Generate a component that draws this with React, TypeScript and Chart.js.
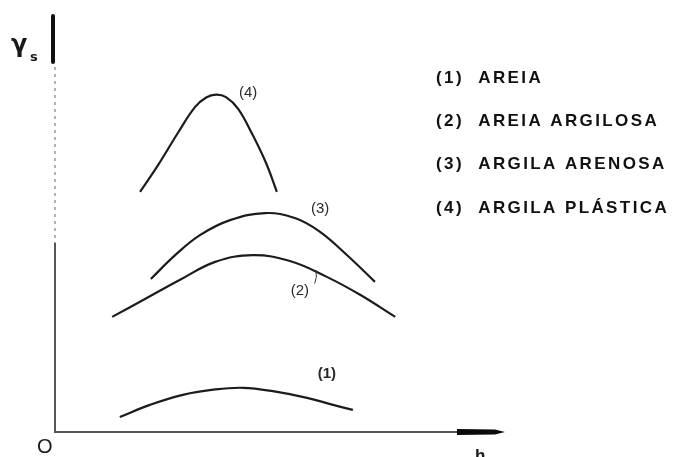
import { useEffect, useRef } from "react";
import { Chart, registerables } from "chart.js";

Chart.register(...registerables);

// Curve (1) AREIA
const curve1X = [14.4, 21.1, 28.4, 35.6, 41.8, 48.4, 56.0, 61.8, 66.2];
const curve1Y = [3.6, 6.5, 8.9, 10.2, 10.6, 9.8, 8.2, 6.5, 5.3];
// Curve (2) AREIA ARGILOSA
const curve2X = [12.7, 20.0, 27.8, 35.6, 44.0, 52.2, 60.4, 67.8, 75.6];
const curve2Y = [27.6, 31.9, 36.5, 40.8, 42.4, 41.0, 37.2, 32.9, 27.6];
// Curve (3) ARGILA ARENOSA
const curve3X = [21.3, 26.7, 32.2, 38.9, 46.7, 53.3, 58.9, 65.1, 71.1];
const curve3Y = [36.7, 42.4, 47.2, 50.8, 52.5, 51.3, 48.0, 42.2, 36.0];
// Curve (4) ARGILA PLÁSTICA
const curve4X = [18.9, 22.9, 27.3, 31.1, 33.6, 35.8, 38.0, 40.7, 43.8, 46.9, 49.3];
const curve4Y = [57.6, 64.0, 71.7, 77.9, 80.2, 80.9, 80.3, 77.5, 71.5, 64.5, 57.6];

const curveLabels = ["(1)", "(2)", "(3)", "(4)"];
const legendLabels = ["(1)  AREIA", "(2)  AREIA ARGILOSA", "(3)  ARGILA ARENOSA", "(4)  ARGILA PLÁSTICA"];
const yAxisLabel = "γ";
const yAxisSub = "s";
const xAxisLabel = "h";
const originLabel = "O";

const overlay = {
  id: "overlay",
  beforeDatasetsDraw(chart: any) {
    const ctx = chart.ctx as CanvasRenderingContext2D;
    const xs = chart.scales.x;
    const ys = chart.scales.y;
    const x0 = xs.getPixelForValue(0);
    const y0 = ys.getPixelForValue(0);
    const top = ys.getPixelForValue(100);
    const right = xs.getPixelForValue(100);
    ctx.save();
    // y axis: thick top part
    ctx.strokeStyle = "#111";
    ctx.lineWidth = 4;
    ctx.lineCap = "round";
    ctx.beginPath();
    ctx.moveTo(x0 - 2, top + 1);
    ctx.lineTo(x0 - 2, top + 47);
    ctx.stroke();
    // dotted faint middle part
    ctx.strokeStyle = "#9a9a9a";
    ctx.lineWidth = 1.5;
    ctx.lineCap = "butt";
    ctx.setLineDash([3, 4]);
    ctx.beginPath();
    ctx.moveTo(x0, top + 52);
    ctx.lineTo(x0, top + 228);
    ctx.stroke();
    ctx.setLineDash([]);
    // solid lower part
    ctx.strokeStyle = "#555";
    ctx.lineWidth = 2;
    ctx.beginPath();
    ctx.moveTo(x0, top + 228);
    ctx.lineTo(x0, y0);
    ctx.lineTo(right - 47, y0);
    ctx.stroke();
    // arrow on x axis
    ctx.fillStyle = "#0a0a0a";
    ctx.beginPath();
    ctx.moveTo(right - 48, y0 - 3);
    ctx.lineTo(right - 10, y0 - 2.5);
    ctx.lineTo(right, y0);
    ctx.lineTo(right - 10, y0 + 2.5);
    ctx.lineTo(right - 48, y0 + 3);
    ctx.closePath();
    ctx.fill();
    ctx.restore();
  },
  afterDraw(chart: any) {
    const ctx = chart.ctx as CanvasRenderingContext2D;
    const xs = chart.scales.x;
    const ys = chart.scales.y;
    const px = (v: number) => xs.getPixelForValue(v);
    const py = (v: number) => ys.getPixelForValue(v);
    ctx.save();
    ctx.textBaseline = "middle";
    ctx.textAlign = "center";
    // curve labels (anchors in data units)
    const anchors = [
      [60.4, 13.9],
      [54.4, 33.8],
      [58.9, 53.5],
      [42.9, 81.3],
    ];
    ctx.fillStyle = "#2a2a2a";
    curveLabels.forEach((t, i) => {
      ctx.font = (i === 0 ? "bold " : "") + "15px 'Liberation Sans', Arial, sans-serif";
      ctx.fillText(t, px(anchors[i][0]), py(anchors[i][1]));
    });
    // small leader tick for (2)
    ctx.strokeStyle = "#333";
    ctx.lineWidth = 1;
    ctx.beginPath();
    ctx.moveTo(px(57.7), py(35.6));
    ctx.quadraticCurveTo(px(58.3), py(37.0), px(58.0), py(38.8));
    ctx.stroke();
    // legend
    ctx.textAlign = "left";
    ctx.fillStyle = "#111";
    ctx.font = "bold 17px 'Liberation Sans', Arial, sans-serif";
    (ctx as any).letterSpacing = "2.4px";
    const rows = [78, 121, 164, 208];
    legendLabels.forEach((t, i) => {
      ctx.fillText(t, 436, rows[i]);
    });
    (ctx as any).letterSpacing = "0px";
    // axis labels
    ctx.fillStyle = "#1a1a1a";
    ctx.font = "bold 24px 'DejaVu Sans', sans-serif";
    ctx.textBaseline = "alphabetic";
    ctx.fillText(yAxisLabel, 11, 52);
    ctx.font = "bold 13px 'DejaVu Sans', sans-serif";
    ctx.fillText(yAxisSub, 30, 61);
    ctx.font = "20px 'Liberation Sans', Arial, sans-serif";
    ctx.fillText(originLabel, 37, 453);
    ctx.font = "bold 17px 'Liberation Sans', Arial, sans-serif";
    ctx.fillText(xAxisLabel, 475, 461);
    ctx.restore();
  },
};

export default function App() {
  const ref = useRef<HTMLCanvasElement>(null);
  useEffect(() => {
    document.body.style.margin = "0";
    const mk = (xs: number[], ys: number[]) => xs.map((x, i) => ({ x, y: ys[i] }));
    const base = {
      showLine: true,
      borderColor: "#1c1c1c",
      borderWidth: 2.2,
      pointRadius: 0,
      tension: 0.4,
    };
    const chart = new Chart(ref.current!, {
      type: "scatter",
      data: {
        datasets: [
          { ...base, label: legendLabels[0], data: mk(curve1X, curve1Y) },
          { ...base, label: legendLabels[1], data: mk(curve2X, curve2Y) },
          { ...base, label: legendLabels[2], data: mk(curve3X, curve3Y) },
          { ...base, label: legendLabels[3], data: mk(curve4X, curve4Y) },
        ],
      },
      options: {
        animation: false,
        responsive: false,
        maintainAspectRatio: false,
        events: [],
        layout: { padding: { left: 55, right: 175, top: 15, bottom: 25 } },
        scales: {
          x: { type: "linear", min: 0, max: 100, display: false },
          y: { type: "linear", min: 0, max: 100, display: false },
        },
        plugins: { legend: { display: false }, tooltip: { enabled: false } },
      },
      plugins: [overlay],
    });
    return () => chart.destroy();
  }, []);
  return (
    <div style={{ position: "absolute", left: 0, top: 0, width: 680, height: 457, background: "#fff" }}>
      <canvas ref={ref} width={680} height={457} style={{ width: 680, height: 457, display: "block" }} />
    </div>
  );
}
